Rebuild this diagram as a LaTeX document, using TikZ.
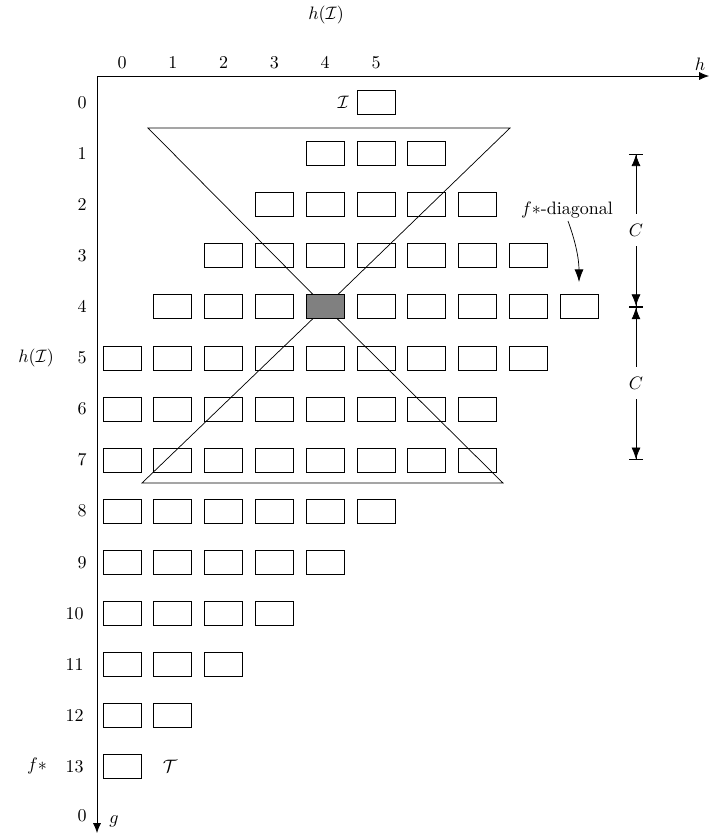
\documentclass[tikz,border=0pt]{standalone}
\usetikzlibrary{arrows.meta}
\begin{document}
\begin{tikzpicture}[x=0.5556pt,y=-0.5556pt,
  cell/.style={draw,minimum width=21.1pt,minimum height=13.3pt,inner sep=0pt},
  lbl/.style={inner sep=0pt},
  axis/.style={-{Latex[length=5.5pt,width=4.5pt]}},
  dim/.style={{Bar[width=8pt]Latex[length=6.5pt,width=5pt]}-{Latex[length=6.5pt,width=5pt]Bar[width=8pt]}}]
\useasboundingbox (0,0) rectangle (710,839);
% axes
\coordinate (O) at (97,76);
\coordinate (xe) at (709,76);
\coordinate (ye) at (97,833);
\draw[axis] (O) -- (xe);
\draw[axis] (O) -- (ye);
\node[lbl] (hlab) at (700,64) {$h$};
\node[lbl] (glab) at (114,821) {$g$};
\node[lbl] (htop) at (326,15) {$h(\mathcal{I})$};
\node[lbl] (hleft) at (36,358) {$h(\mathcal{I})$};
\node[lbl] (fstar) at (37,766) {$f{*}$};
% column labels
\foreach \c in {0,...,5} \node[lbl] (col\c) at ({122+50.8*\c},63) {$\c$};
% row labels
\foreach \r in {0,...,9} \node[lbl,anchor=east] (row\r) at (87,{102.5+51.08*\r}) {$\r$};
\foreach \r in {10,...,13} \node[lbl,anchor=east] (row\r) at (84,{102.5+51.08*\r}) {$\r$};
\node[lbl,anchor=east] (row14) at (87,816) {$0$};
% triangles
\coordinate (apex) at ({122+50.8*4},{102.5+51.08*4});
\coordinate (tl) at (148,128);
\coordinate (tr) at (510,128);
\coordinate (bl) at (142,483);
\coordinate (br) at (503,483);
\draw (tl) -- (tr) -- (apex) -- cycle;
\draw (bl) -- (br) -- (apex) -- cycle;
% cells
\foreach \r/\a/\b in {0/5/5,1/4/6,2/3/7,3/2/8,4/1/9,5/0/8,6/0/7,7/0/7,8/0/5,9/0/4,10/0/3,11/0/2,12/0/1,13/0/0}{
  \foreach \c in {\a,...,\b}{
    \node[cell] (b\r-\c) at ({122+50.8*\c},{102.5+51.08*\r}) {};
  }
}
\node[cell,fill=gray] (g44) at (apex) {};
\node[lbl,anchor=east] (Ilab) at (349,102.5) {$\mathcal{I}$};
\node[lbl] (Tlab) at (170,766.5) {$\mathcal{T}$};
% C dimensions
\coordinate (c1) at (636,153.6);
\coordinate (c2) at (636,306.8);
\coordinate (c3) at (636,460);
\draw[dim] (c1) -- node[fill=white,inner sep=5.5pt] (C1) {$C$} (c2);
\draw[dim] (c2) -- node[fill=white,inner sep=5.5pt] (C2) {$C$} (c3);
% f*-diagonal
\node[lbl] (fdiag) at (567,210) {$f{*}$-diagonal};
\coordinate (fd1) at (568,221);
\coordinate (fd2) at (579,282);
\draw[-{Latex[length=7pt,width=5pt]}] (fd1) .. controls (575,240) and (579,258) .. (fd2);
\end{tikzpicture}
\end{document}
